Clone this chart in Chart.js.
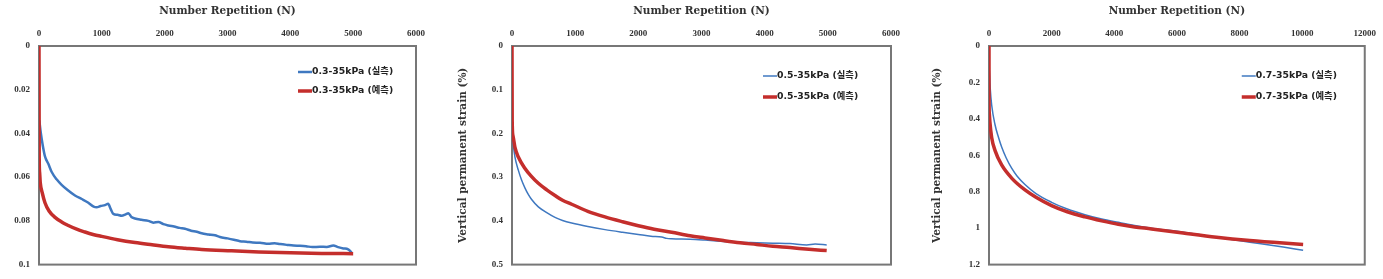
<!DOCTYPE html>
<html>
<head>
<meta charset="utf-8">
<script src="https://cdn.jsdelivr.net/npm/chart.js@4.4.1/dist/chart.umd.min.js"></script>
<style>
  html, body { margin: 0; padding: 0; background: #ffffff; }
  body { width: 1383px; height: 279px; position: relative; overflow: hidden; }
  .panel { position: absolute; top: 0; height: 279px; }
</style>
</head>
<body>
<div class="panel" style="left:0px;width:455px;"><canvas id="c1" width="455" height="279"></canvas></div>
<div class="panel" style="left:455px;width:465px;"><canvas id="c2" width="465" height="279"></canvas></div>
<div class="panel" style="left:920px;width:463px;"><canvas id="c3" width="463" height="279"></canvas></div>
<script>
// ---------- shared text ----------
const xAxisTitle = 'Number Repetition (N)';
const yAxisTitle = 'Vertical permanent strain (%)';

// ---------- panel 1 : 0.3-35kPa ----------
const p1Labels = ['0.3-35kPa (실측)', '0.3-35kPa (예측)'];
const p1XTicks = [0, 1000, 2000, 3000, 4000, 5000, 6000];
const p1YTicks = [0, 0.02, 0.04, 0.06, 0.08, 0.1];
const p1MeasuredN = [5, 30, 60, 95, 150, 200, 280, 360, 460, 573, 680, 785, 870, 918, 980, 1050, 1100, 1140, 1183, 1250, 1316, 1380, 1422, 1470, 1528, 1630, 1740, 1820, 1900, 1980, 2058, 2150, 2240, 2324, 2420, 2510, 2589, 2700, 2800, 2880, 3000, 3100, 3199, 3300, 3400, 3517, 3650, 3750, 3836, 3950, 4050, 4154, 4250, 4350, 4472, 4580, 4684, 4760, 4844, 4920, 4976];
const p1MeasuredStrain = [0.034, 0.040, 0.0455, 0.0505, 0.054, 0.0575, 0.061, 0.0635, 0.066, 0.0684, 0.070, 0.0717, 0.0735, 0.0738, 0.0732, 0.0728, 0.0722, 0.0745, 0.0768, 0.0772, 0.0777, 0.0770, 0.0765, 0.0782, 0.0789, 0.0795, 0.0800, 0.0808, 0.0805, 0.0815, 0.0821, 0.0826, 0.0832, 0.0836, 0.0845, 0.0850, 0.0857, 0.0862, 0.0866, 0.0874, 0.0880, 0.0886, 0.0893, 0.0895, 0.0899, 0.0900, 0.0905, 0.0902, 0.0906, 0.0910, 0.0913, 0.0914, 0.0916, 0.0920, 0.0918, 0.0919, 0.0913, 0.0920, 0.0926, 0.0930, 0.0945];
const p1PredictedN = [0, 3, 10, 20, 50, 95, 160, 255, 360, 467, 600, 732, 860, 997, 1250, 1528, 1800, 2059, 2330, 2589, 3066, 3500, 4000, 4500, 5000];
const p1PredictedStrain = [0, 0.050, 0.058, 0.0625, 0.067, 0.0717, 0.0755, 0.0784, 0.0805, 0.0821, 0.0838, 0.0851, 0.0862, 0.0871, 0.0886, 0.0899, 0.0909, 0.0918, 0.0925, 0.0931, 0.0937, 0.0942, 0.0946, 0.0949, 0.0950];

// ---------- panel 2 : 0.5-35kPa ----------
const p2Labels = ['0.5-35kPa (실측)', '0.5-35kPa (예측)'];
const p2XTicks = [0, 1000, 2000, 3000, 4000, 5000, 6000];
const p2YTicks = [0, 0.1, 0.2, 0.3, 0.4, 0.5];
const p2MeasuredN = [0, 5, 20, 47, 100, 150, 206, 260, 311, 417, 550, 681, 800, 945, 1200, 1472, 1750, 2000, 2200, 2370, 2450, 2528, 2818, 3055, 3346, 3600, 3873, 4130, 4401, 4665, 4800, 4982];
const p2MeasuredStrain = [0.19, 0.20, 0.225, 0.254, 0.284, 0.306, 0.325, 0.340, 0.351, 0.368, 0.381, 0.392, 0.399, 0.405, 0.413, 0.420, 0.426, 0.431, 0.435, 0.437, 0.440, 0.441, 0.442, 0.444, 0.447, 0.449, 0.450, 0.451, 0.452, 0.455, 0.453, 0.455];
const p2PredictedN = [0, 3, 15, 47, 100, 206, 300, 417, 550, 681, 800, 945, 1200, 1472, 1750, 2000, 2250, 2528, 2818, 3055, 3346, 3610, 3873, 4130, 4401, 4700, 4982];
const p2PredictedStrain = [0, 0.17, 0.205, 0.232, 0.254, 0.280, 0.297, 0.314, 0.329, 0.342, 0.353, 0.362, 0.378, 0.391, 0.402, 0.411, 0.419, 0.426, 0.434, 0.439, 0.445, 0.450, 0.454, 0.458, 0.461, 0.465, 0.468];

// ---------- panel 3 : 0.7-35kPa ----------
const p3Labels = ['0.7-35kPa (실측)', '0.7-35kPa (예측)'];
const p3XTicks = [0, 2000, 4000, 6000, 8000, 10000, 12000];
const p3YTicks = [0, 0.2, 0.4, 0.6, 0.8, 1, 1.2];
const p3MeasuredN = [0, 15, 40, 85, 191, 300, 404, 550, 723, 900, 1149, 1500, 2000, 2500, 3064, 3600, 4128, 4650, 5191, 6202, 7266, 8330, 9394, 10032];
const p3MeasuredStrain = [0.10, 0.15, 0.235, 0.324, 0.431, 0.50, 0.555, 0.615, 0.671, 0.715, 0.760, 0.810, 0.858, 0.895, 0.926, 0.950, 0.968, 0.985, 1.000, 1.022, 1.050, 1.077, 1.104, 1.121];
const p3PredictedN = [0, 2, 10, 30, 85, 191, 404, 723, 1149, 1500, 2000, 2500, 3064, 3600, 4128, 4650, 5191, 6202, 7266, 8330, 9394, 10032];
const p3PredictedStrain = [0, 0.30, 0.37, 0.42, 0.502, 0.573, 0.653, 0.725, 0.790, 0.830, 0.876, 0.910, 0.938, 0.960, 0.979, 0.993, 1.004, 1.027, 1.050, 1.068, 1.082, 1.089];

// ---------- styling ----------
const BLUE = '#3f78c0';
const RED = '#c42e2c';
const FRAME = '#777777';
const titleFont = { family: '"DejaVu Serif", serif', weight: 'bold', size: 10.5 };
const tickFont = { family: '"Liberation Serif", serif', weight: 'bold', size: 9 };
const legendFont = 'bold 9.3px "DejaVu Sans", "Noto Sans CJK KR", sans-serif';

const framePlugin = {
  id: 'frame',
  beforeDatasetsDraw(chart) {
    const a = chart.chartArea, ctx = chart.ctx;
    ctx.save();
    ctx.strokeStyle = FRAME;
    ctx.lineWidth = 2;
    ctx.strokeRect(a.left, a.top, a.right - a.left, a.bottom - a.top);
    ctx.restore();
  }
};

const legendPlugin = {
  id: 'boxLegend',
  afterDraw(chart, args, opts) {
    const a = chart.chartArea, ctx = chart.ctx;
    ctx.save();
    ctx.font = legendFont;
    ctx.textBaseline = 'middle';
    ctx.fillStyle = '#222';
    chart.data.datasets.forEach((ds, i) => {
      const y = a.top + opts.rows[i];
      const x = a.right - opts.offset;
      ctx.strokeStyle = ds.borderColor;
      ctx.lineWidth = ds.borderWidth;
      ctx.beginPath();
      ctx.moveTo(x, y);
      ctx.lineTo(x + 14, y);
      ctx.stroke();
      ctx.fillText(ds.label, x + 14, y);
    });
    ctx.restore();
  }
};

function pts(xs, ys) { return xs.map((x, i) => ({ x: x, y: ys[i] })); }

function makeChart(id, cfg) {
  new Chart(document.getElementById(id), {
    type: 'line',
    data: {
      datasets: [
        { label: cfg.labels[0], data: pts(cfg.mN, cfg.mS), borderColor: BLUE, borderWidth: cfg.blueWidth,
          pointRadius: 0, cubicInterpolationMode: 'monotone', order: 1 },
        { label: cfg.labels[1], data: pts(cfg.pN, cfg.pS), borderColor: RED, borderWidth: 3.5,
          pointRadius: 0, cubicInterpolationMode: 'monotone', order: 0 }
      ]
    },
    options: {
      responsive: false,
      animation: false,
      devicePixelRatio: 1,
      layout: { padding: { left: 0, top: 0, right: cfg.padRight, bottom: 9 } },
      plugins: {
        legend: { display: false },
        tooltip: { enabled: false },
        boxLegend: { rows: cfg.legendRows, offset: cfg.legendOffset }
      },
      scales: {
        x: {
          type: 'linear', position: 'top',
          min: cfg.xTicks[0], max: cfg.xTicks[cfg.xTicks.length - 1],
          afterBuildTicks: s => { s.ticks = cfg.xTicks.map(v => ({ value: v })); },
          afterFit: s => { s.height = 46; },
          grid: { display: false, drawTicks: false },
          border: { display: false },
          ticks: { font: tickFont, color: '#333', padding: 7, maxRotation: 0, callback: v => String(v) },
          title: { display: true, text: xAxisTitle, font: titleFont, color: '#333', padding: { top: 5, bottom: 0 } }
        },
        y: {
          type: 'linear', reverse: true,
          min: cfg.yTicks[0], max: cfg.yTicks[cfg.yTicks.length - 1],
          afterBuildTicks: s => { s.ticks = cfg.yTicks.map(v => ({ value: v })); },
          afterFit: s => { s.width = cfg.yWidth; },
          grid: { display: false, drawTicks: false },
          border: { display: false },
          ticks: { font: tickFont, color: '#333', padding: 9, callback: v => String(v) },
          title: { display: cfg.showYTitle, text: yAxisTitle, font: titleFont, color: '#333', padding: { top: cfg.yTitlePad, bottom: 0 } }
        }
      }
    },
    plugins: [framePlugin, legendPlugin]
  });
}

makeChart('c1', { labels: p1Labels, xTicks: p1XTicks, yTicks: p1YTicks,
  mN: p1MeasuredN, mS: p1MeasuredStrain, pN: p1PredictedN, pS: p1PredictedStrain,
  blueWidth: 2.5, yWidth: 39, padRight: 39, showYTitle: false, yTitlePad: 2, legendRows: [26, 45], legendOffset: 118 });
makeChart('c2', { labels: p2Labels, xTicks: p2XTicks, yTicks: p2YTicks,
  mN: p2MeasuredN, mS: p2MeasuredStrain, pN: p2PredictedN, pS: p2PredictedStrain,
  blueWidth: 1.5, yWidth: 57, padRight: 29, showYTitle: true, yTitlePad: 2, legendRows: [30, 51], legendOffset: 128 });
makeChart('c3', { labels: p3Labels, xTicks: p3XTicks, yTicks: p3YTicks,
  mN: p3MeasuredN, mS: p3MeasuredStrain, pN: p3PredictedN, pS: p3PredictedStrain,
  blueWidth: 1.5, yWidth: 69, padRight: 18, showYTitle: true, yTitlePad: 11, legendRows: [30, 51], legendOffset: 123 });
</script>
</body>
</html>
